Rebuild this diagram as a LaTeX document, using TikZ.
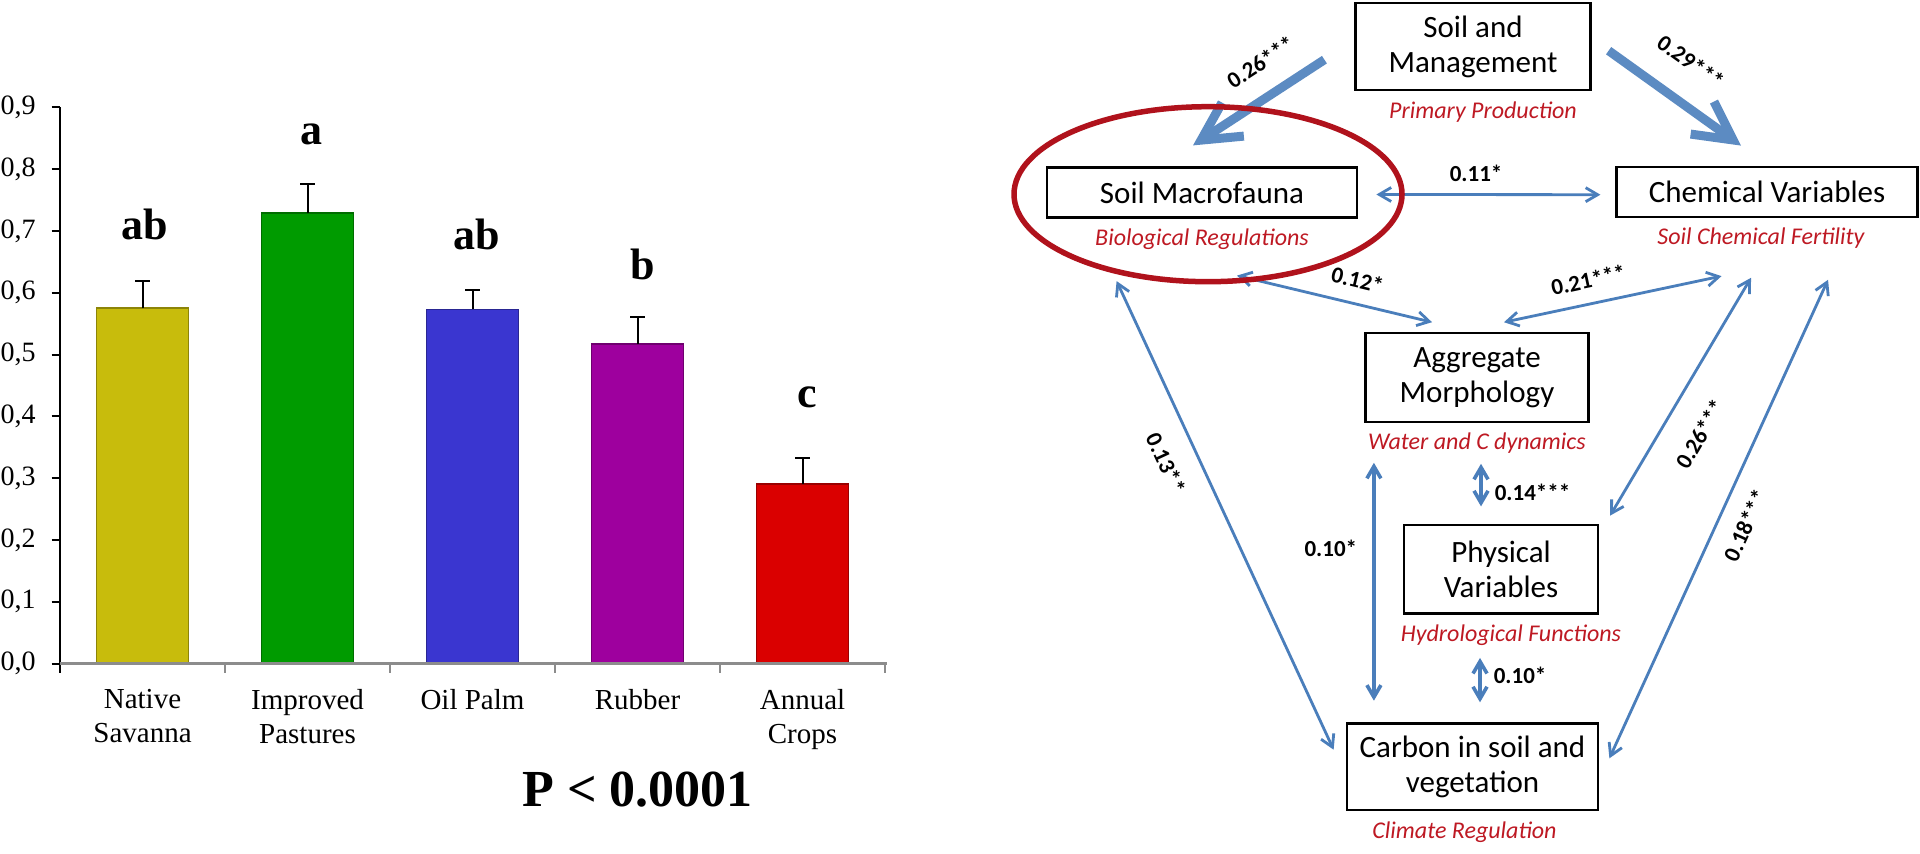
\documentclass[tikz,border=0pt]{standalone}
\usepackage{fontspec}
\setmainfont{Liberation Serif}
\newfontfamily\calibri{Carlito}
\usetikzlibrary{arrows.meta,positioning,shapes.geometric}

\definecolor{linkblue}{RGB}{74,126,187}
\definecolor{ringred}{RGB}{176,18,28}
\definecolor{subred}{RGB}{190,25,35}
\definecolor{axisgray}{RGB}{140,140,140}
\definecolor{barA}{RGB}{200,188,12}
\definecolor{barB}{RGB}{0,155,0}
\definecolor{barC}{RGB}{58,54,208}
\definecolor{barD}{RGB}{158,0,158}
\definecolor{barE}{RGB}{218,0,0}

\tikzset{
  box/.style={draw, line width=1.1pt, fill=white, inner sep=0pt, align=center,
    font=\calibri\fontsize{15.5}{17.5}\selectfont},
  sub/.style={inner sep=0pt, text=subred, font=\calibri\itshape\fontsize{12}{14}\selectfont},
  coef/.style={inner sep=0pt, font=\calibri\bfseries\fontsize{11.5}{13}\selectfont},
  link/.style={draw=linkblue, line width=1.4pt,
    {Straight Barb[length=6pt,width=7pt]}-{Straight Barb[length=6pt,width=7pt]}},
  bigarrow/.style={draw=linkblue!90!white, line width=4.5pt, -{Straight Barb[length=19pt,width=20pt]}},
  focus/.style={ellipse, draw=ringred, line width=2.75pt, minimum width=194pt,
    minimum height=87.5pt, inner sep=0pt},
  ylab/.style={anchor=east, inner sep=0pt, font=\fontsize{14}{16}\selectfont},
  xlab/.style={anchor=north, inner sep=0pt, align=center, font=\fontsize{14.5}{17}\selectfont},
  grade/.style={anchor=base, inner sep=0pt, font=\bfseries\fontsize{22}{24}\selectfont},
  pval/.style={inner sep=0pt, font=\bfseries\fontsize{26}{30}\selectfont}
}

\begin{document}
\begin{tikzpicture}[x=0.5pt, y=-0.5pt]
\fill[white] (0,0) rectangle (1920,854);
\useasboundingbox (0,0) rectangle (1920,854);

\draw[line width=1pt] (59.8,107.4) -- (59.8,673.3);
\foreach \i in {0,...,9} {
  \draw[line width=1pt] (51.7,663.6-61.8*\i) -- (59.8,663.6-61.8*\i);
  \node[ylab] (y_\i) at (36,663.6-61.8*\i) {0,\i};
}

\filldraw[fill=barA, draw=barA!70!black, line width=0.8pt] (96.5,663.6) rectangle (188.5,308.2);
\filldraw[fill=barB, draw=barB!70!black, line width=0.8pt] (261.5,663.6) rectangle (353.5,213.1);
\filldraw[fill=barC, draw=barC!70!black, line width=0.8pt] (426.5,663.6) rectangle (518.5,309.5);
\filldraw[fill=barD, draw=barD!70!black, line width=0.8pt] (591.5,663.6) rectangle (683.5,344.1);
\filldraw[fill=barE, draw=barE!70!black, line width=0.8pt] (756.5,663.6) rectangle (848.5,483.8);

\draw[axisgray, line width=1.5pt] (59.8,663.6) -- (886.7,663.6);
\foreach \x in {224.8,389.8,554.8,719.8,884.8}
  \draw[axisgray, line width=1pt] (\x,663.6) -- (\x,673.3);

\draw[line width=1pt] (142.5,308.2) -- (142.5,281.1) (135,281.1) -- (150,281.1);
\draw[line width=1pt] (307.5,213.1) -- (307.5,184.0) (300,184.0) -- (315,184.0);
\draw[line width=1pt] (472.5,309.5) -- (472.5,290.3) (465,290.3) -- (480,290.3);
\draw[line width=1pt] (637.5,344.1) -- (637.5,316.9) (630,316.9) -- (645,316.9);
\draw[line width=1pt] (802.5,483.8) -- (802.5,458.4) (795,458.4) -- (810,458.4);

\node[grade] (g_1) at (145,240) {ab};
\node[grade] (g_2) at (311,145) {a};
\node[grade] (g_3) at (477,250) {ab};
\node[grade] (g_4) at (643,280) {b};
\node[grade] (g_5) at (807,408) {c};

\node[xlab] (x_1) at (142.5,689) {Native\\Savanna};
\node[xlab] (x_2) at (307.5,689) {Improved\\Pastures};
\node[xlab] (x_3) at (472.5,689) {Oil Palm};
\node[xlab] (x_4) at (637.5,689) {Rubber};
\node[xlab] (x_5) at (802.5,689) {Annual\\Crops};
\node[pval] (p_val) at (637.5,790) {P < 0.0001};

\node[box, minimum width=117.5pt, minimum height=43.3pt] (s_m) at (1473,46.7) {Soil and\\Management};
\node[sub] (f_sm) [below=5pt of s_m, xshift=5pt] {Primary Production};
\node[box, minimum width=155.3pt, minimum height=25pt] (s_f) at (1202,192.5) {Soil Macrofauna};
\node[sub] (f_sf) [below=5pt of s_f] {Biological Regulations};
\node[box, minimum width=150.5pt, minimum height=25pt] (c_v) at (1767,191.7) {Chemical Variables};
\node[sub] (f_cv) [below=5pt of c_v, xshift=-3pt] {Soil Chemical Fertility};
\node[box, minimum width=111.5pt, minimum height=44.2pt] (a_m) at (1477,377.5) {Aggregate\\Morphology};
\node[sub] (f_am) [below=5pt of a_m] {Water and C dynamics};
\node[box, minimum width=97pt, minimum height=44.2pt] (p_v) at (1501,569.2) {Physical\\Variables};
\node[sub] (f_pv) [below=5pt of p_v, xshift=5pt] {Hydrological Functions};
\node[box, minimum width=125.8pt, minimum height=43.3pt] (c_s) at (1472.5,766.7) {Carbon in soil and\\vegetation};
\node[sub] (f_cs) [below=5pt of c_s, xshift=-4pt] {Climate Regulation};

\path ([shift={(-30,13)}]s_m.west) edge[bigarrow] node[coef, sloped, above=10pt, pos=.35] {0.26***} ([shift={(-9,-21)}]s_f.north)
      ([shift={(17,4)}]s_m.east) edge[bigarrow] node[coef, sloped, above=13pt, pos=.45] {0.29***} ([shift={(-26,-20)}]c_v.north);
\path ([shift={(18,2)}]s_f.east) edge[link] node[coef, above=6pt, pos=.445] {0.11*} ([shift={(-15,3)}]c_v.west)
      ([shift={(35,57)}]s_f.south) edge[link] node[coef, sloped, above=7pt, pos=.59] {0.12*} ([shift={(-45,-10)}]a_m.north)
      ([shift={(-85.4,62.5)}]s_f.south) edge[link] node[coef, sloped, below=11pt, pos=.36] {0.13**} ([shift={(-12,-17)}]c_s.west);
\path ([shift={(27,-10)}]a_m.north) edge[link] node[coef, sloped, above=7pt, pos=.41] {0.21***} ([shift={(-45.5,58.3)}]c_v.south)
      ([shift={(11,-8.3)}]p_v.north east) edge[link] node[coef, sloped, below=13pt, pos=.42] {0.26***} ([shift={(-16,60)}]c_v.south)
      ([shift={(10,-8.4)}]c_s.east) edge[link] node[coef, sloped, below=8.5pt, pos=.51] {0.18***} ([shift={(61,62)}]c_v.south);
\path ([shift={(9.5,40)}]a_m.south west) edge[link, line width=1.8pt] node[coef, left=7.5pt, pos=.36] {0.10*} ([shift={(28.3,-21.6)}]c_s.north west)
      ([shift={(4,41)}]a_m.south) edge[link, line width=1.8pt] node[coef, right=6pt, pos=.68] {0.14***} ([shift={(-20,-17.5)}]p_v.north)
      ([shift={(-21,43.4)}]p_v.south) edge[link, line width=1.8pt] node[coef, right=6pt, pos=.39] {0.10*} ([shift={(7.5,-20)}]c_s.north);

\node[focus] (ring) at (1208,194.2) {};
\end{tikzpicture}
\end{document}
